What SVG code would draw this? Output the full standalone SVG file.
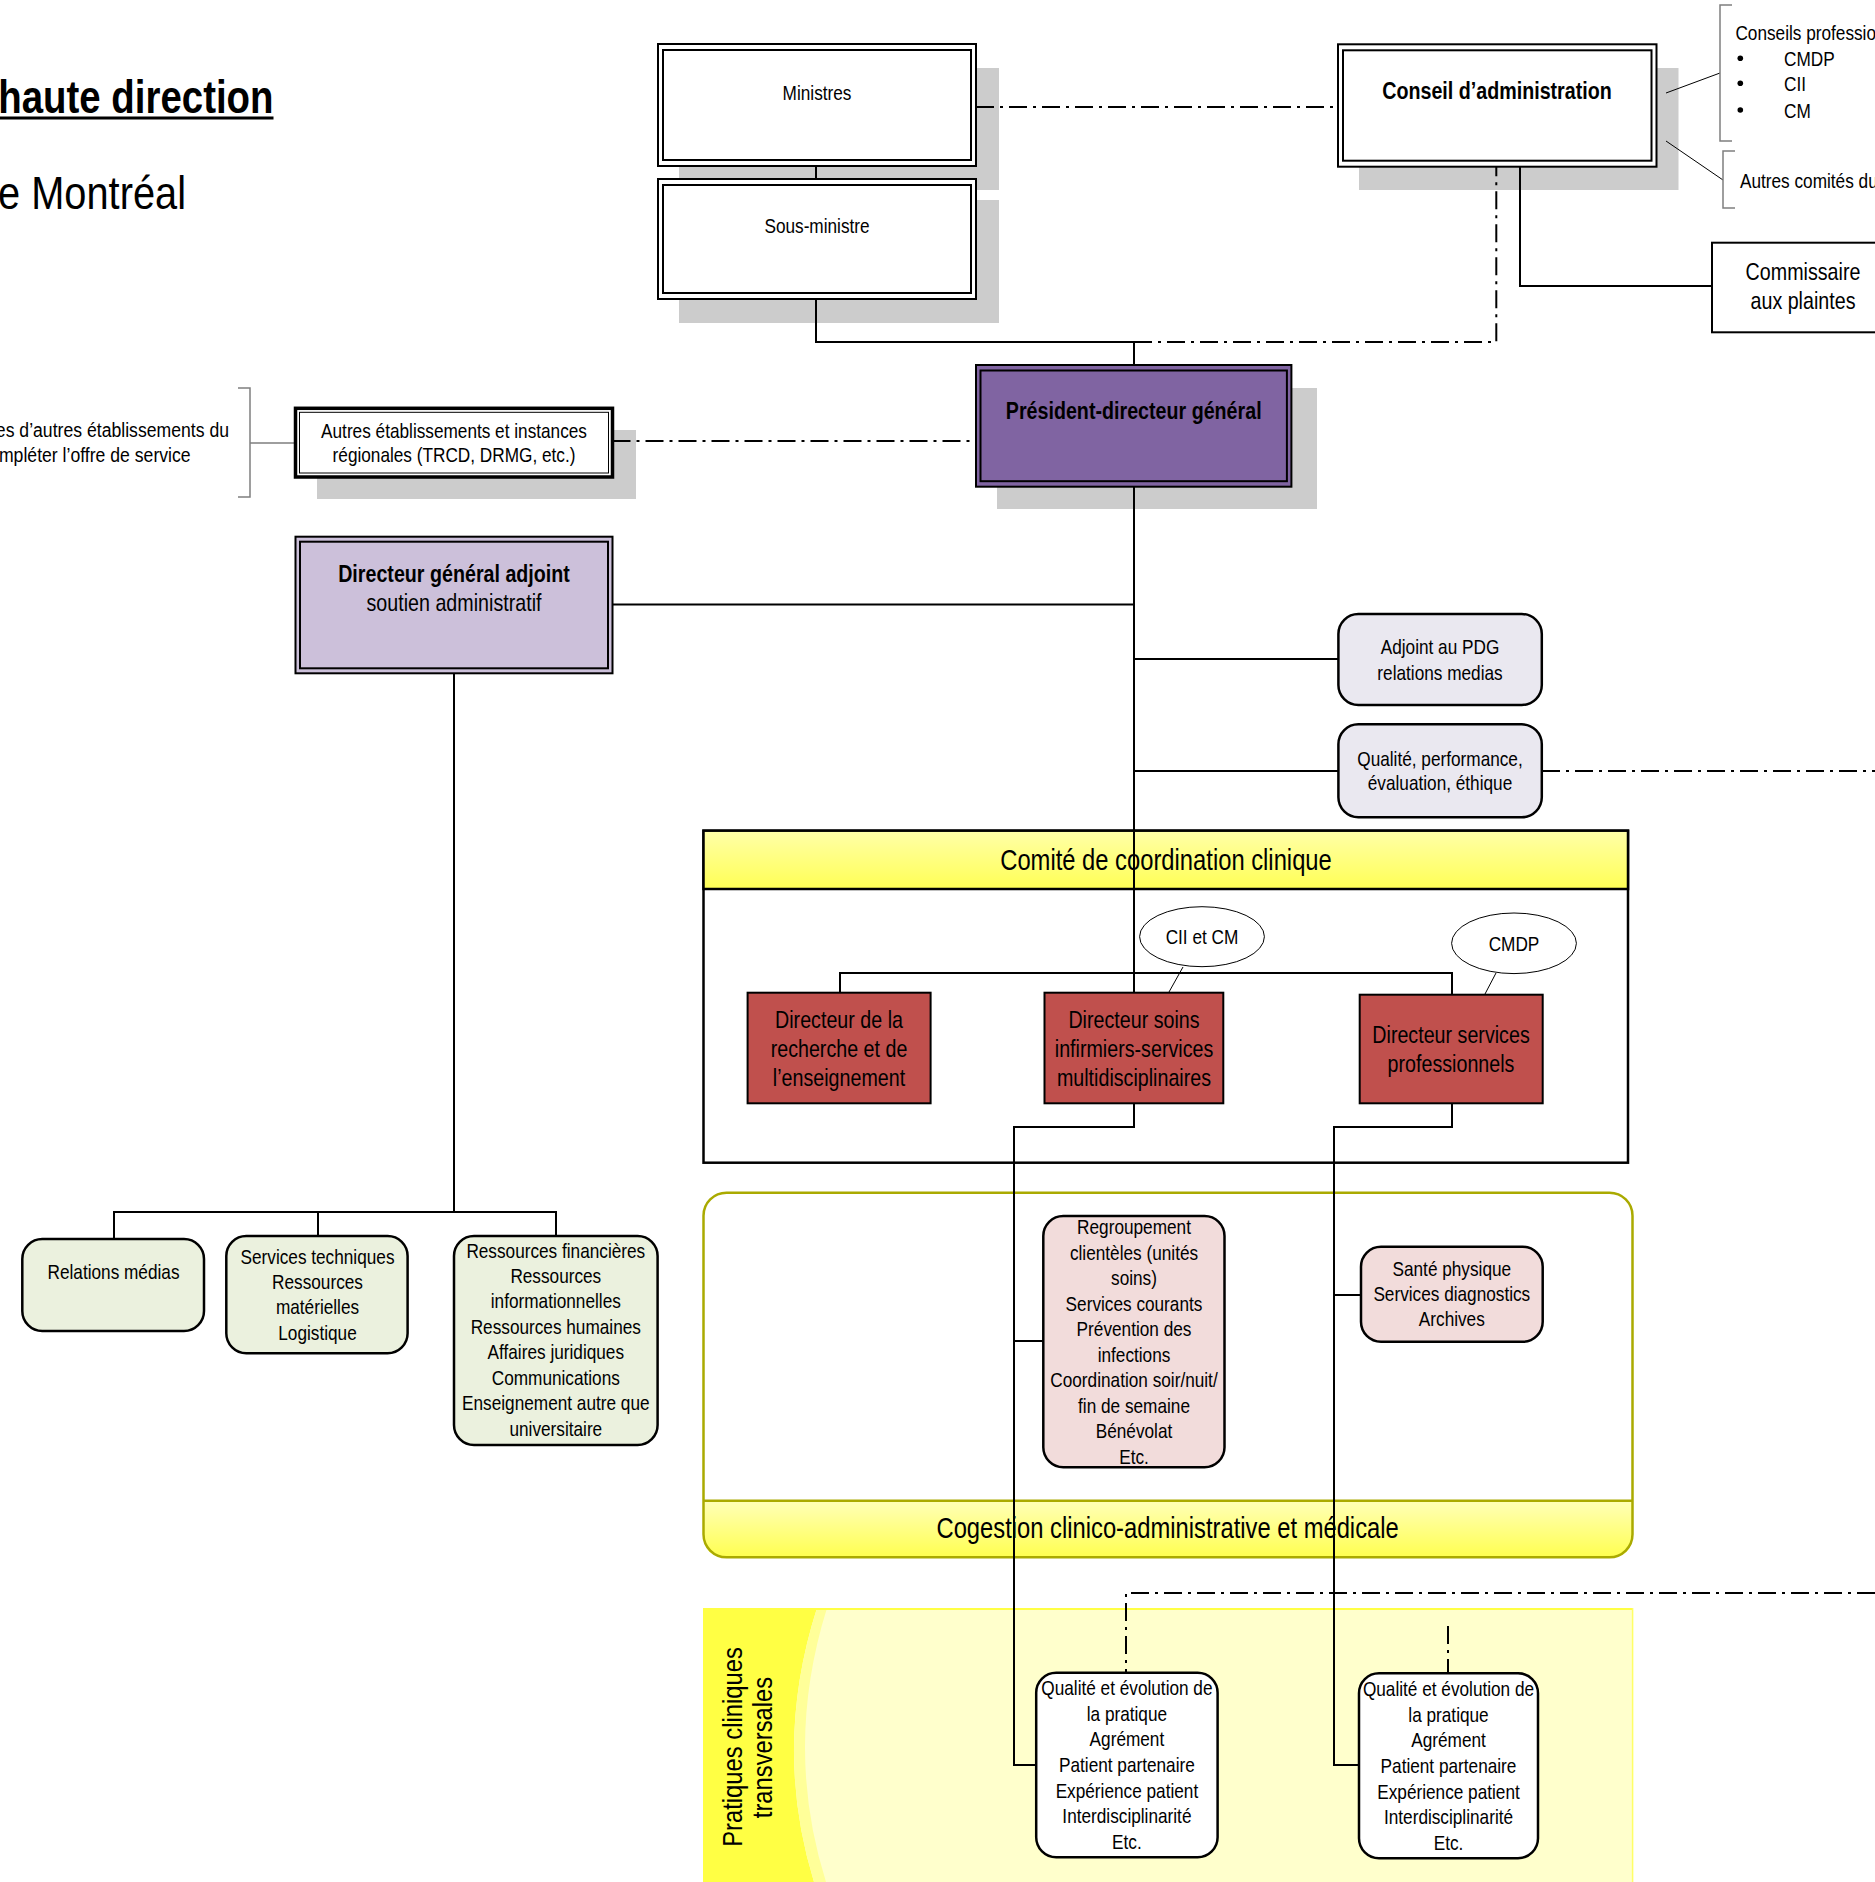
<svg xmlns="http://www.w3.org/2000/svg" width="1875" height="1882" viewBox="0 0 1875 1882">
<style>
.t{font-family:'Liberation Sans',Arial,sans-serif;fill:#000;text-anchor:middle}
.b{font-weight:bold}
.s{fill:#CCCCCC;stroke:none}
.bx{fill:#fff;stroke:#000;stroke-width:2}
.in{fill:none;stroke:#000;stroke-width:2}
.ln{fill:none;stroke:#000;stroke-width:2}
.dd{fill:none;stroke:#000;stroke-width:2;stroke-dasharray:18 6 3 6}
.gr{fill:none;stroke:#7F7F7F;stroke-width:1.5}
.th{fill:none;stroke:#000;stroke-width:1}
.rb{stroke:#000;stroke-width:2.5}
.red{fill:#C0504D;stroke:#000;stroke-width:2}
</style>
<defs>
<linearGradient id="hdr" x1="0" y1="0" x2="0" y2="1"><stop offset="0" stop-color="#FFFFA8"/><stop offset="1" stop-color="#FFFF55"/></linearGradient>
<linearGradient id="cog" x1="0" y1="0" x2="0" y2="1"><stop offset="0" stop-color="#FFFFB8"/><stop offset="1" stop-color="#FFFF50"/></linearGradient>
</defs>
<rect width="1875" height="1882" fill="#fff"/>

<g id="title">
<text class="t b" font-size="46" style="text-anchor:end" transform="translate(273.5,113) scale(0.835,1)">haute direction</text>
<line x1="0" y1="118" x2="273.5" y2="118" stroke="#000" stroke-width="3"/>
<text class="t" font-size="46" style="text-anchor:end" transform="translate(186,209) scale(0.865,1)">e Montréal</text>
</g>

<g id="panels">
<g id="comite-coordination">
<rect x="703.5" y="830.7" width="924.5" height="332" fill="#fff" stroke="#000" stroke-width="2.5"/>
<rect x="703.5" y="830.7" width="924.5" height="58.3" fill="url(#hdr)" stroke="#000" stroke-width="2.5"/>
<text class="t" font-size="29" transform="translate(1166,869.5) scale(0.82,1)">Comité de coordination clinique</text>
</g>
<g id="cogestion">
<rect x="703.5" y="1192.7" width="929" height="364.6" rx="23" fill="#fff"/>
<path d="M703.5,1500.7 H1632.5 V1534.3 Q1632.5,1557.3 1609.5,1557.3 H726.5 Q703.5,1557.3 703.5,1534.3 Z" fill="url(#cog)"/>
<line x1="703.5" y1="1500.7" x2="1632.5" y2="1500.7" stroke="#AAAA00" stroke-width="2.5"/>
<rect x="703.5" y="1192.7" width="929" height="364.6" rx="23" fill="none" stroke="#AAAA00" stroke-width="2.5"/>
<text class="t" font-size="29" transform="translate(1167.6,1538) scale(0.82,1)">Cogestion clinico-administrative et médicale</text>
</g>
<g id="pratiques">
<rect x="703" y="1608" width="930" height="274" fill="#FFFFCC"/>
<path d="M703,1608 H817 Q772.5,1747 814,1882 H703 Z" fill="#FFFF44"/>
<path d="M817,1608 H827 Q783.5,1747 826,1882 H814 Q772.5,1747 817,1608 Z" fill="#FFFF99"/>
<line x1="703" y1="1609" x2="1633" y2="1609" stroke="#FFFF44" stroke-width="2"/>
<line x1="1632.6" y1="1608" x2="1632.6" y2="1882" stroke="#FFFF66" stroke-width="1.5"/>
<text class="t" font-size="28" transform="translate(741.5,1747) rotate(-90) scale(0.85,1)">Pratiques cliniques</text>
<text class="t" font-size="28" transform="translate(772,1747.5) rotate(-90) scale(0.85,1)">transversales</text>
</g>
</g>

<g id="shadows">
<rect class="s" x="679" y="68" width="320" height="122"/>
<rect class="s" x="679" y="200" width="320" height="123"/>
<rect class="s" x="1359" y="68" width="319.5" height="122"/>
<rect class="s" x="997" y="388" width="320" height="121"/>
<rect class="s" x="317" y="430" width="319" height="69"/>
</g>

<g id="connectors">
<path class="ln" d="M816,166 V179"/>
<path class="ln" d="M816,299 V342 H1134 V365"/>
<path class="dd" d="M976,107 H1338"/>
<path class="dd" d="M1134,342 H1496.3 V167"/>
<path class="ln" d="M1520,167 V286 H1712"/>
<path class="th" d="M1666,93 L1720,73"/>
<path class="th" d="M1666,141 L1723,180"/>
<path class="gr" d="M1732,5 H1720 V141 H1732"/>
<path class="gr" d="M1735,151 H1723 V208 H1735"/>
<path class="gr" d="M238,388 H250 V497 H238 M250,443 H295.5"/>
<path class="dd" d="M612.5,441 H976"/>
<path class="ln" d="M1134,487 V993"/>
<path class="ln" d="M612.5,604.5 H1134"/>
<path class="ln" d="M1134,659 H1338.4"/>
<path class="ln" d="M1134,771 H1338.4"/>
<path class="dd" d="M1542,771 H1875"/>
<path class="ln" d="M840,993 V973 H1452 V995"/>
<path class="th" d="M1183,967 L1169,992"/>
<path class="th" d="M1496,973 L1485,994"/>
<path class="ln" d="M1134,1103 V1127 H1014 V1765 H1036"/>
<path class="ln" d="M1014,1341 H1043"/>
<path class="ln" d="M1452,1103 V1127 H1334 V1765 H1359"/>
<path class="ln" d="M1334,1295 H1361"/>
<path class="dd" d="M1875,1593 H1126 V1673"/>
<path class="dd" d="M1448,1626 V1673"/>
<path class="ln" d="M454,673 V1212 M114,1239 V1212 H556 V1236 M318,1212 V1236"/>
</g>

<g id="ministres">
<rect class="bx" x="658" y="44" width="318" height="122"/>
<rect class="in" x="663" y="50" width="308" height="110"/>
<text class="t" font-size="21" transform="translate(817,100) scale(0.82,1)">Ministres</text>
</g>
<g id="sous-ministre">
<rect class="bx" x="658" y="179" width="318" height="120"/>
<rect class="in" x="663" y="185" width="308" height="108"/>
<text class="t" font-size="21" transform="translate(817,233) scale(0.82,1)">Sous-ministre</text>
</g>
<g id="conseil-administration">
<rect class="bx" x="1338" y="44.3" width="318.5" height="122.4"/>
<rect class="in" x="1343" y="50.3" width="308.5" height="110.4"/>
<text class="t b" font-size="24" transform="translate(1497,99) scale(0.82,1)">Conseil d’administration</text>
</g>
<g id="conseils-professionnels">
<text class="t" font-size="21" style="text-anchor:start" transform="translate(1735.4,40) scale(0.82,1)">Conseils professio</text>
<circle cx="1740.3" cy="58.3" r="2.8"/>
<circle cx="1740.3" cy="83.3" r="2.8"/>
<circle cx="1740.3" cy="110" r="2.8"/>
<text class="t" font-size="21" style="text-anchor:start" transform="translate(1784,65.5) scale(0.82,1)">CMDP</text>
<text class="t" font-size="21" style="text-anchor:start" transform="translate(1784,90.5) scale(0.82,1)">CII</text>
<text class="t" font-size="21" style="text-anchor:start" transform="translate(1784,117.5) scale(0.82,1)">CM</text>
</g>
<g id="autres-comites">
<text class="t" font-size="21" style="text-anchor:start" transform="translate(1740,187.5) scale(0.82,1)">Autres comités du</text>
</g>
<g id="commissaire">
<rect class="bx" x="1712" y="242.7" width="200" height="89.6"/>
<text class="t" font-size="24" transform="translate(1803,280) scale(0.82,1)"><tspan x="0" y="0">Commissaire</tspan><tspan x="0" y="29">aux plaintes</tspan></text>
</g>
<g id="pdg">
<rect x="976" y="365" width="315.4" height="121.7" fill="#8064A2" stroke="#000" stroke-width="2"/>
<rect class="in" x="980.5" y="370.5" width="306.4" height="110.7"/>
<text class="t b" font-size="24" transform="translate(1133.7,419.3) scale(0.82,1)">Président-directeur général</text>
</g>
<g id="ententes">
<text class="t" font-size="21" style="text-anchor:end" transform="translate(229,437) scale(0.84,1)">es d’autres établissements du</text>
<text class="t" font-size="21" style="text-anchor:end" transform="translate(190.6,461.5) scale(0.84,1)">mpléter l’offre de service</text>
</g>
<g id="autres-etablissements">
<rect x="295.5" y="408.3" width="317" height="68.7" fill="#fff" stroke="#000" stroke-width="3.5"/>
<rect x="299.5" y="412.3" width="309" height="60.7" fill="none" stroke="#000" stroke-width="1"/>
<text class="t" font-size="21" transform="translate(454,437.5) scale(0.82,1)"><tspan x="0" y="0">Autres établissements et instances</tspan><tspan x="0" y="25">régionales (TRCD, DRMG, etc.)</tspan></text>
</g>
<g id="dga">
<rect x="295.5" y="536.7" width="317" height="136.6" fill="#CCC0DA" stroke="#000" stroke-width="2"/>
<rect class="in" x="300" y="541.7" width="308" height="126.6"/>
<text class="t b" font-size="24" transform="translate(454,582) scale(0.82,1)">Directeur général adjoint</text>
<text class="t" font-size="24" transform="translate(454,611) scale(0.82,1)">soutien administratif</text>
</g>
<g id="adjoint-pdg">
<rect class="rb" x="1338.4" y="614" width="203.4" height="91" rx="20" fill="#EAE8F0"/>
<text class="t" font-size="21" transform="translate(1440,653.5) scale(0.82,1)"><tspan x="0" y="0">Adjoint au PDG</tspan><tspan x="0" y="26.5">relations medias</tspan></text>
</g>
<g id="qualite-performance">
<rect class="rb" x="1338.4" y="724.3" width="203.4" height="93" rx="20" fill="#EAE8F0"/>
<text class="t" font-size="21" transform="translate(1440,765.5) scale(0.82,1)"><tspan x="0" y="0">Qualité, performance,</tspan><tspan x="0" y="25">évaluation, éthique</tspan></text>
</g>
<g id="cii-cm">
<ellipse cx="1202" cy="936.7" rx="62.4" ry="30" fill="#fff" stroke="#000" stroke-width="1"/>
<text class="t" font-size="21" transform="translate(1202,944) scale(0.82,1)">CII et CM</text>
</g>
<g id="cmdp">
<ellipse cx="1514" cy="943.3" rx="62.4" ry="30.3" fill="#fff" stroke="#000" stroke-width="1"/>
<text class="t" font-size="21" transform="translate(1514,951) scale(0.82,1)">CMDP</text>
</g>
<g id="dir-recherche">
<rect class="red" x="747.6" y="992.7" width="183" height="110.6"/>
<text class="t" font-size="24" transform="translate(839,1028) scale(0.82,1)"><tspan x="0" y="0">Directeur de la</tspan><tspan x="0" y="29">recherche et de</tspan><tspan x="0" y="58">l’enseignement</tspan></text>
</g>
<g id="dir-soins">
<rect class="red" x="1044.5" y="992.7" width="178.8" height="110.6"/>
<text class="t" font-size="24" transform="translate(1134,1028) scale(0.82,1)"><tspan x="0" y="0">Directeur soins</tspan><tspan x="0" y="29">infirmiers-services</tspan><tspan x="0" y="58">multidisciplinaires</tspan></text>
</g>
<g id="dir-services-pro">
<rect class="red" x="1359.7" y="994.7" width="183" height="108.6"/>
<text class="t" font-size="24" transform="translate(1451,1042.5) scale(0.82,1)"><tspan x="0" y="0">Directeur services</tspan><tspan x="0" y="29.3">professionnels</tspan></text>
</g>
<g id="regroupement">
<rect class="rb" x="1043.3" y="1216" width="181.2" height="251.3" rx="20" fill="#F2DCDB"/>
<text class="t" font-size="21" transform="translate(1134,1234) scale(0.82,1)"><tspan x="0" y="0">Regroupement</tspan><tspan x="0" y="25.55">clientèles (unités</tspan><tspan x="0" y="51.1">soins)</tspan><tspan x="0" y="76.65">Services courants</tspan><tspan x="0" y="102.2">Prévention des</tspan><tspan x="0" y="127.75">infections</tspan><tspan x="0" y="153.3">Coordination soir/nuit/</tspan><tspan x="0" y="178.85">fin de semaine</tspan><tspan x="0" y="204.4">Bénévolat</tspan><tspan x="0" y="229.95">Etc.</tspan></text>
</g>
<g id="sante-physique">
<rect class="rb" x="1361" y="1246.7" width="181.7" height="95" rx="20" fill="#F2DCDB"/>
<text class="t" font-size="21" transform="translate(1451.8,1275.5) scale(0.82,1)"><tspan x="0" y="0">Santé physique</tspan><tspan x="0" y="25.5">Services diagnostics</tspan><tspan x="0" y="51">Archives</tspan></text>
</g>
<g id="qualite-pratique-1">
<rect class="rb" x="1036.2" y="1672.7" width="181.4" height="184.6" rx="20" fill="#fff"/>
<text class="t" font-size="21" transform="translate(1126.9,1695) scale(0.82,1)"><tspan x="0" y="0">Qualité et évolution de</tspan><tspan x="0" y="25.67">la pratique</tspan><tspan x="0" y="51.33">Agrément</tspan><tspan x="0" y="77">Patient partenaire</tspan><tspan x="0" y="102.67">Expérience patient</tspan><tspan x="0" y="128.33">Interdisciplinarité</tspan><tspan x="0" y="154">Etc.</tspan></text>
</g>
<g id="qualite-pratique-2">
<rect class="rb" x="1359" y="1673.3" width="179" height="185" rx="20" fill="#fff"/>
<text class="t" font-size="21" transform="translate(1448.5,1696) scale(0.82,1)"><tspan x="0" y="0">Qualité et évolution de</tspan><tspan x="0" y="25.67">la pratique</tspan><tspan x="0" y="51.33">Agrément</tspan><tspan x="0" y="77">Patient partenaire</tspan><tspan x="0" y="102.67">Expérience patient</tspan><tspan x="0" y="128.33">Interdisciplinarité</tspan><tspan x="0" y="154">Etc.</tspan></text>
</g>
<g id="relations-medias">
<rect class="rb" x="22.3" y="1239" width="181.7" height="92" rx="20" fill="#EBF1DE"/>
<text class="t" font-size="21" transform="translate(113.5,1279) scale(0.82,1)">Relations médias</text>
</g>
<g id="services-techniques">
<rect class="rb" x="226.3" y="1236" width="181.3" height="117.3" rx="20" fill="#EBF1DE"/>
<text class="t" font-size="21" transform="translate(317.5,1263.5) scale(0.82,1)"><tspan x="0" y="0">Services techniques</tspan><tspan x="0" y="25.5">Ressources</tspan><tspan x="0" y="51">matérielles</tspan><tspan x="0" y="76.5">Logistique</tspan></text>
</g>
<g id="ressources">
<rect class="rb" x="454" y="1236" width="203.6" height="209" rx="20" fill="#EBF1DE"/>
<text class="t" font-size="21" transform="translate(555.8,1257.5) scale(0.82,1)"><tspan x="0" y="0">Ressources financières</tspan><tspan x="0" y="25.5">Ressources</tspan><tspan x="0" y="51">informationnelles</tspan><tspan x="0" y="76.5">Ressources humaines</tspan><tspan x="0" y="102">Affaires juridiques</tspan><tspan x="0" y="127.5">Communications</tspan><tspan x="0" y="153">Enseignement autre que</tspan><tspan x="0" y="178.5">universitaire</tspan></text>
</g>
</svg>
